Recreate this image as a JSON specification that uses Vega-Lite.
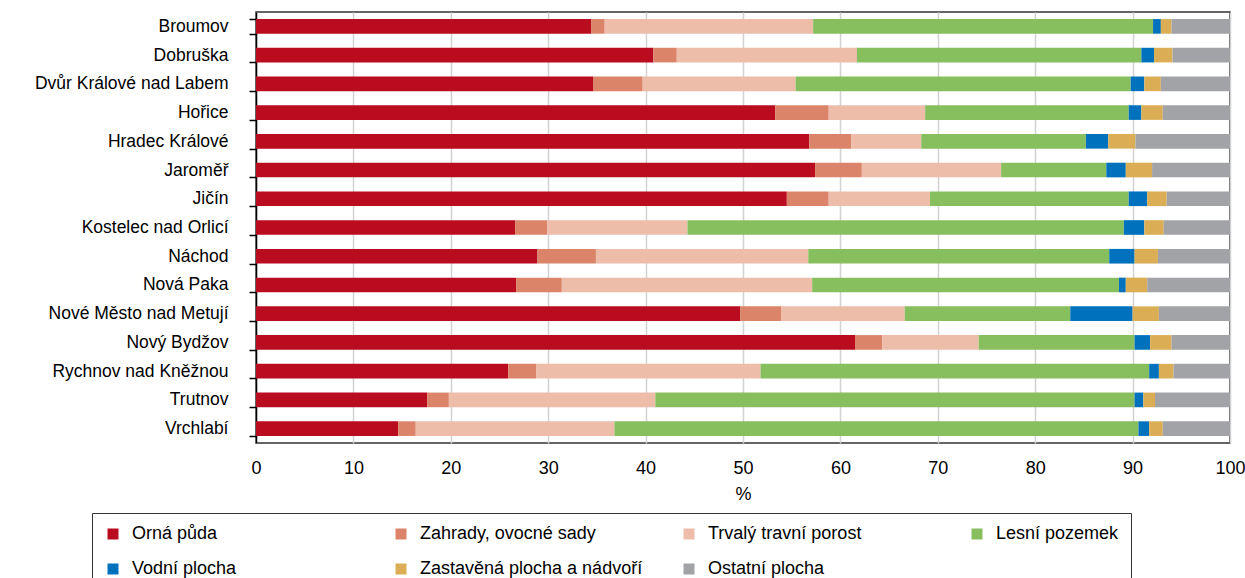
{
  "$schema": "https://vega.github.io/schema/vega-lite/v6.json",
  "width": 974,
  "height": 431,
  "autosize": {"type": "none"},
  "padding": {"left": 256, "top": 12, "right": 15, "bottom": 135},
  "background": "white",
  "config": {
    "font": "Liberation Sans",
    "view": {"stroke": "#333333", "strokeWidth": 1.5},
    "legend": {"strokeColor": "#333333", "padding": 12}
  },
  "data": {
    "values": [
      {"obec": "Broumov", "kategorie": "Orná půda", "hodnota": 34.4},
      {"obec": "Broumov", "kategorie": "Zahrady, ovocné sady", "hodnota": 1.4},
      {"obec": "Broumov", "kategorie": "Trvalý travní porost", "hodnota": 21.4},
      {"obec": "Broumov", "kategorie": "Lesní pozemek", "hodnota": 34.9},
      {"obec": "Broumov", "kategorie": "Vodní plocha", "hodnota": 0.8},
      {"obec": "Broumov", "kategorie": "Zastavěná plocha a nádvoří", "hodnota": 1.1},
      {"obec": "Broumov", "kategorie": "Ostatní plocha", "hodnota": 6.0},
      {"obec": "Dobruška", "kategorie": "Orná půda", "hodnota": 40.8},
      {"obec": "Dobruška", "kategorie": "Zahrady, ovocné sady", "hodnota": 2.4},
      {"obec": "Dobruška", "kategorie": "Trvalý travní porost", "hodnota": 18.5},
      {"obec": "Dobruška", "kategorie": "Lesní pozemek", "hodnota": 29.2},
      {"obec": "Dobruška", "kategorie": "Vodní plocha", "hodnota": 1.3},
      {"obec": "Dobruška", "kategorie": "Zastavěná plocha a nádvoří", "hodnota": 1.9},
      {"obec": "Dobruška", "kategorie": "Ostatní plocha", "hodnota": 5.9},
      {"obec": "Dvůr Králové nad Labem", "kategorie": "Orná půda", "hodnota": 34.6},
      {"obec": "Dvůr Králové nad Labem", "kategorie": "Zahrady, ovocné sady", "hodnota": 5.1},
      {"obec": "Dvůr Králové nad Labem", "kategorie": "Trvalý travní porost", "hodnota": 15.7},
      {"obec": "Dvůr Králové nad Labem", "kategorie": "Lesní pozemek", "hodnota": 34.4},
      {"obec": "Dvůr Králové nad Labem", "kategorie": "Vodní plocha", "hodnota": 1.4},
      {"obec": "Dvůr Králové nad Labem", "kategorie": "Zastavěná plocha a nádvoří", "hodnota": 1.7},
      {"obec": "Dvůr Králové nad Labem", "kategorie": "Ostatní plocha", "hodnota": 7.1},
      {"obec": "Hořice", "kategorie": "Orná půda", "hodnota": 53.3},
      {"obec": "Hořice", "kategorie": "Zahrady, ovocné sady", "hodnota": 5.5},
      {"obec": "Hořice", "kategorie": "Trvalý travní porost", "hodnota": 9.9},
      {"obec": "Hořice", "kategorie": "Lesní pozemek", "hodnota": 20.9},
      {"obec": "Hořice", "kategorie": "Vodní plocha", "hodnota": 1.3},
      {"obec": "Hořice", "kategorie": "Zastavěná plocha a nádvoří", "hodnota": 2.2},
      {"obec": "Hořice", "kategorie": "Ostatní plocha", "hodnota": 6.9},
      {"obec": "Hradec Králové", "kategorie": "Orná půda", "hodnota": 56.8},
      {"obec": "Hradec Králové", "kategorie": "Zahrady, ovocné sady", "hodnota": 4.3},
      {"obec": "Hradec Králové", "kategorie": "Trvalý travní porost", "hodnota": 7.2},
      {"obec": "Hradec Králové", "kategorie": "Lesní pozemek", "hodnota": 16.9},
      {"obec": "Hradec Králové", "kategorie": "Vodní plocha", "hodnota": 2.3},
      {"obec": "Hradec Králové", "kategorie": "Zastavěná plocha a nádvoří", "hodnota": 2.8},
      {"obec": "Hradec Králové", "kategorie": "Ostatní plocha", "hodnota": 9.7},
      {"obec": "Jaroměř", "kategorie": "Orná půda", "hodnota": 57.4},
      {"obec": "Jaroměř", "kategorie": "Zahrady, ovocné sady", "hodnota": 4.8},
      {"obec": "Jaroměř", "kategorie": "Trvalý travní porost", "hodnota": 14.3},
      {"obec": "Jaroměř", "kategorie": "Lesní pozemek", "hodnota": 10.8},
      {"obec": "Jaroměř", "kategorie": "Vodní plocha", "hodnota": 2.0},
      {"obec": "Jaroměř", "kategorie": "Zastavěná plocha a nádvoří", "hodnota": 2.7},
      {"obec": "Jaroměř", "kategorie": "Ostatní plocha", "hodnota": 8.0},
      {"obec": "Jičín", "kategorie": "Orná půda", "hodnota": 54.5},
      {"obec": "Jičín", "kategorie": "Zahrady, ovocné sady", "hodnota": 4.3},
      {"obec": "Jičín", "kategorie": "Trvalý travní porost", "hodnota": 10.4},
      {"obec": "Jičín", "kategorie": "Lesní pozemek", "hodnota": 20.4},
      {"obec": "Jičín", "kategorie": "Vodní plocha", "hodnota": 1.9},
      {"obec": "Jičín", "kategorie": "Zastavěná plocha a nádvoří", "hodnota": 2.0},
      {"obec": "Jičín", "kategorie": "Ostatní plocha", "hodnota": 6.5},
      {"obec": "Kostelec nad Orlicí", "kategorie": "Orná půda", "hodnota": 26.6},
      {"obec": "Kostelec nad Orlicí", "kategorie": "Zahrady, ovocné sady", "hodnota": 3.3},
      {"obec": "Kostelec nad Orlicí", "kategorie": "Trvalý travní porost", "hodnota": 14.4},
      {"obec": "Kostelec nad Orlicí", "kategorie": "Lesní pozemek", "hodnota": 44.8},
      {"obec": "Kostelec nad Orlicí", "kategorie": "Vodní plocha", "hodnota": 2.1},
      {"obec": "Kostelec nad Orlicí", "kategorie": "Zastavěná plocha a nádvoří", "hodnota": 2.0},
      {"obec": "Kostelec nad Orlicí", "kategorie": "Ostatní plocha", "hodnota": 6.8},
      {"obec": "Náchod", "kategorie": "Orná půda", "hodnota": 28.9},
      {"obec": "Náchod", "kategorie": "Zahrady, ovocné sady", "hodnota": 6.0},
      {"obec": "Náchod", "kategorie": "Trvalý travní porost", "hodnota": 21.8},
      {"obec": "Náchod", "kategorie": "Lesní pozemek", "hodnota": 30.9},
      {"obec": "Náchod", "kategorie": "Vodní plocha", "hodnota": 2.6},
      {"obec": "Náchod", "kategorie": "Zastavěná plocha a nádvoří", "hodnota": 2.4},
      {"obec": "Náchod", "kategorie": "Ostatní plocha", "hodnota": 7.4},
      {"obec": "Nová Paka", "kategorie": "Orná půda", "hodnota": 26.7},
      {"obec": "Nová Paka", "kategorie": "Zahrady, ovocné sady", "hodnota": 4.7},
      {"obec": "Nová Paka", "kategorie": "Trvalý travní porost", "hodnota": 25.7},
      {"obec": "Nová Paka", "kategorie": "Lesní pozemek", "hodnota": 31.5},
      {"obec": "Nová Paka", "kategorie": "Vodní plocha", "hodnota": 0.7},
      {"obec": "Nová Paka", "kategorie": "Zastavěná plocha a nádvoří", "hodnota": 2.2},
      {"obec": "Nová Paka", "kategorie": "Ostatní plocha", "hodnota": 8.5},
      {"obec": "Nové Město nad Metují", "kategorie": "Orná půda", "hodnota": 49.7},
      {"obec": "Nové Město nad Metují", "kategorie": "Zahrady, ovocné sady", "hodnota": 4.2},
      {"obec": "Nové Město nad Metují", "kategorie": "Trvalý travní porost", "hodnota": 12.7},
      {"obec": "Nové Město nad Metují", "kategorie": "Lesní pozemek", "hodnota": 17.0},
      {"obec": "Nové Město nad Metují", "kategorie": "Vodní plocha", "hodnota": 6.4},
      {"obec": "Nové Město nad Metují", "kategorie": "Zastavěná plocha a nádvoří", "hodnota": 2.7},
      {"obec": "Nové Město nad Metují", "kategorie": "Ostatní plocha", "hodnota": 7.3},
      {"obec": "Nový Bydžov", "kategorie": "Orná půda", "hodnota": 61.5},
      {"obec": "Nový Bydžov", "kategorie": "Zahrady, ovocné sady", "hodnota": 2.8},
      {"obec": "Nový Bydžov", "kategorie": "Trvalý travní porost", "hodnota": 9.9},
      {"obec": "Nový Bydžov", "kategorie": "Lesní pozemek", "hodnota": 16.0},
      {"obec": "Nový Bydžov", "kategorie": "Vodní plocha", "hodnota": 1.6},
      {"obec": "Nový Bydžov", "kategorie": "Zastavěná plocha a nádvoří", "hodnota": 2.2},
      {"obec": "Nový Bydžov", "kategorie": "Ostatní plocha", "hodnota": 6.0},
      {"obec": "Rychnov nad Kněžnou", "kategorie": "Orná půda", "hodnota": 25.9},
      {"obec": "Rychnov nad Kněžnou", "kategorie": "Zahrady, ovocné sady", "hodnota": 2.9},
      {"obec": "Rychnov nad Kněžnou", "kategorie": "Trvalý travní porost", "hodnota": 23.0},
      {"obec": "Rychnov nad Kněžnou", "kategorie": "Lesní pozemek", "hodnota": 39.9},
      {"obec": "Rychnov nad Kněžnou", "kategorie": "Vodní plocha", "hodnota": 1.0},
      {"obec": "Rychnov nad Kněžnou", "kategorie": "Zastavěná plocha a nádvoří", "hodnota": 1.5},
      {"obec": "Rychnov nad Kněžnou", "kategorie": "Ostatní plocha", "hodnota": 5.8},
      {"obec": "Trutnov", "kategorie": "Orná půda", "hodnota": 17.6},
      {"obec": "Trutnov", "kategorie": "Zahrady, ovocné sady", "hodnota": 2.2},
      {"obec": "Trutnov", "kategorie": "Trvalý travní porost", "hodnota": 21.2},
      {"obec": "Trutnov", "kategorie": "Lesní pozemek", "hodnota": 49.2},
      {"obec": "Trutnov", "kategorie": "Vodní plocha", "hodnota": 0.9},
      {"obec": "Trutnov", "kategorie": "Zastavěná plocha a nádvoří", "hodnota": 1.2},
      {"obec": "Trutnov", "kategorie": "Ostatní plocha", "hodnota": 7.7},
      {"obec": "Vrchlabí", "kategorie": "Orná půda", "hodnota": 14.6},
      {"obec": "Vrchlabí", "kategorie": "Zahrady, ovocné sady", "hodnota": 1.8},
      {"obec": "Vrchlabí", "kategorie": "Trvalý travní porost", "hodnota": 20.4},
      {"obec": "Vrchlabí", "kategorie": "Lesní pozemek", "hodnota": 53.8},
      {"obec": "Vrchlabí", "kategorie": "Vodní plocha", "hodnota": 1.1},
      {"obec": "Vrchlabí", "kategorie": "Zastavěná plocha a nádvoří", "hodnota": 1.4},
      {"obec": "Vrchlabí", "kategorie": "Ostatní plocha", "hodnota": 6.9}
    ]
  },
  "transform": [
    {"calculate": "indexof(['Orná půda', 'Zahrady, ovocné sady', 'Trvalý travní porost', 'Lesní pozemek', 'Vodní plocha', 'Zastavěná plocha a nádvoří', 'Ostatní plocha'], datum.kategorie)", "as": "poradi"}
  ],
  "mark": {"type": "bar"},
  "encoding": {
    "y": {
      "field": "obec",
      "type": "nominal",
      "sort": null,
      "title": null,
      "scale": {"paddingInner": 0.49, "paddingOuter": 0.245},
      "axis": {
        "tickBand": "extent",
        "tickSize": 7,
        "tickColor": "black",
        "tickWidth": 1.5,
        "domainColor": "black",
        "domainWidth": 1.5,
        "labelFontSize": 17.5,
        "labelPadding": 21,
        "labelColor": "black",
        "labelLimit": 300,
        "grid": false
      }
    },
    "x": {
      "field": "hodnota",
      "type": "quantitative",
      "stack": "zero",
      "scale": {"domain": [0, 100], "nice": false},
      "title": "%",
      "axis": {
        "values": [0, 10, 20, 30, 40, 50, 60, 70, 80, 90, 100],
        "ticks": false,
        "domain": false,
        "grid": true,
        "gridColor": "#d2d2d2",
        "gridWidth": 1.5,
        "labelFontSize": 18,
        "labelPadding": 16,
        "labelFlush": false,
        "labelColor": "black",
        "titleFontSize": 18,
        "titleFontWeight": "normal",
        "titleColor": "black",
        "titlePadding": 8
      }
    },
    "order": {"field": "poradi", "type": "quantitative", "sort": "ascending"},
    "color": {
      "field": "kategorie",
      "type": "nominal",
      "sort": ["Orná půda", "Zahrady, ovocné sady", "Trvalý travní porost", "Lesní pozemek", "Vodní plocha", "Zastavěná plocha a nádvoří", "Ostatní plocha"],
      "scale": {
        "domain": ["Orná půda", "Zahrady, ovocné sady", "Trvalý travní porost", "Lesní pozemek", "Vodní plocha", "Zastavěná plocha a nádvoří", "Ostatní plocha"],
        "range": ["#BA0C1F", "#DB846A", "#EDBDAA", "#88BF5E", "#0071BD", "#DBAE56", "#A1A3A7"]
      },
      "legend": {
        "title": null,
        "orient": "none",
        "legendX": -164,
        "legendY": 501,
        "direction": "horizontal",
        "columns": 4,
        "gridAlign": "all",
        "columnPadding": 37,
        "rowPadding": 17,
        "symbolType": "square",
        "symbolSize": 121,
        "symbolStrokeWidth": 0,
        "labelFontSize": 18,
        "labelOffset": 10,
        "labelColor": "black",
        "labelLimit": 400
      }
    }
  }
}
